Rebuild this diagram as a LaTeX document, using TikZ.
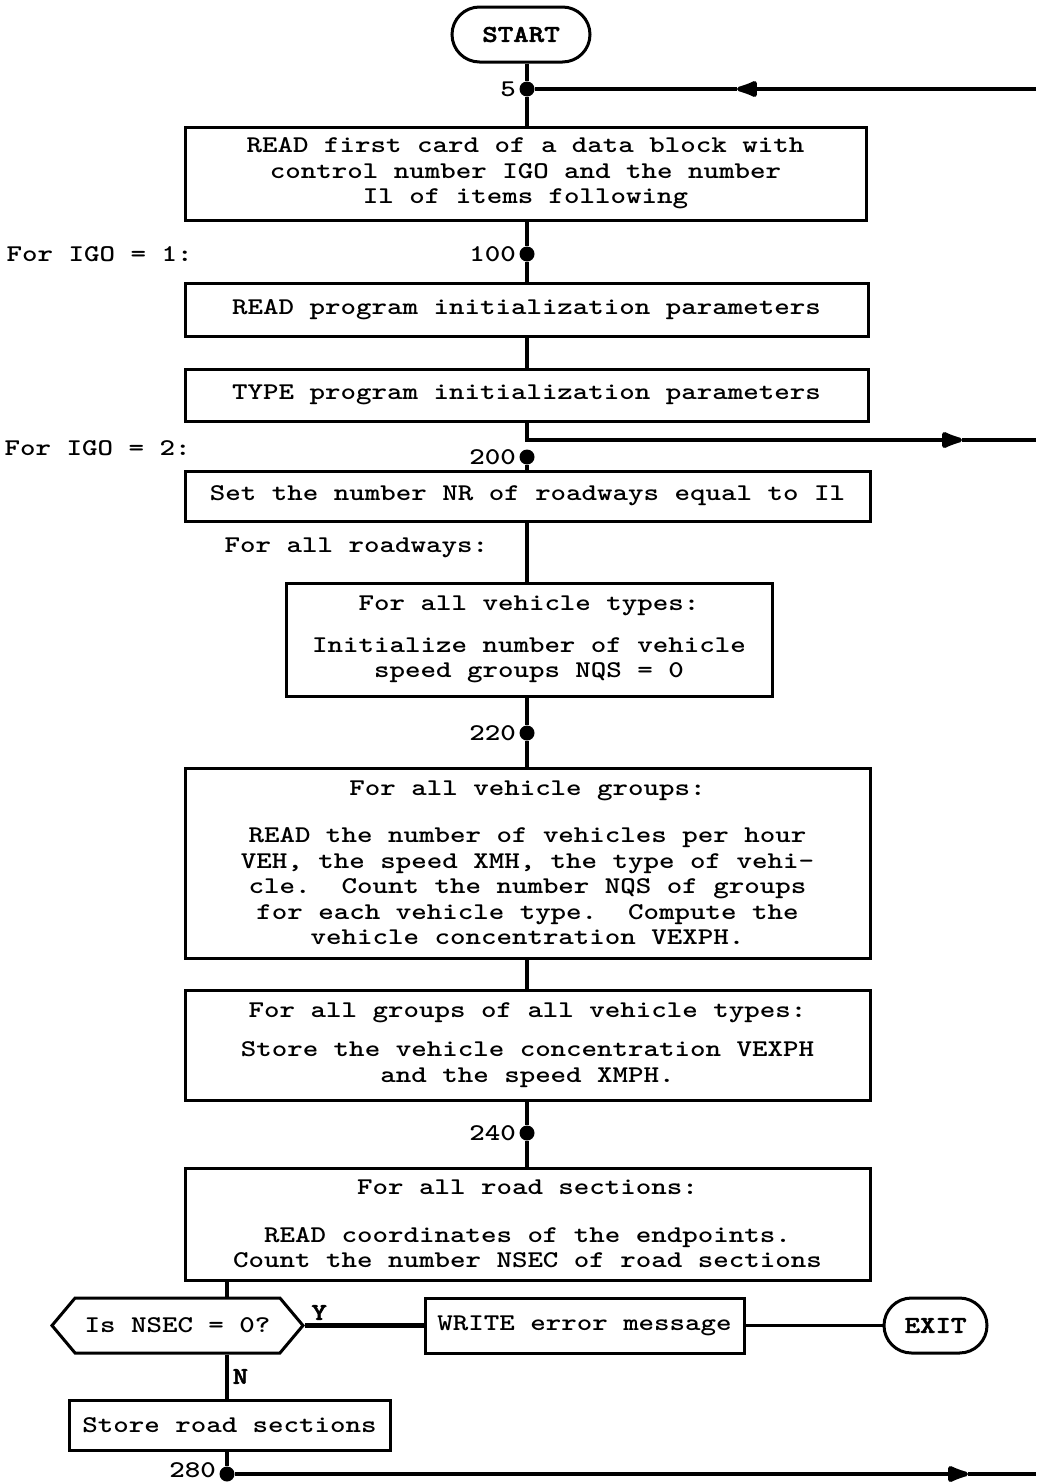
\documentclass[tikz,border=0pt]{standalone}
\usepackage{fontspec}
\setmonofont{lmmonolt10-bold.otf}[
  BoldFont=lmmonolt10-bold.otf,
  BoldFeatures={FakeBold=2},
  FakeStretch=1.23]
\usetikzlibrary{positioning,arrows.meta,shapes.misc,shapes.symbols}
\frenchspacing

\begin{document}
\begin{tikzpicture}[
  x=1pt,y=-1pt,
  >={Latex[length=28pt,width=19pt,round]},
  every node/.style={font=\ttfamily\fontsize{24}{25.5}\selectfont},
  flow/.style={line width=4.6pt},
  box/.style={draw,line width=3pt,align=center,inner sep=0pt},
  term/.style={draw,line width=3pt,rounded rectangle,inner sep=0pt,
    font=\ttfamily\bfseries\fontsize{24}{25.5}\selectfont},
  cond/.style={draw,line width=3pt,signal,signal to=west and east,
    signal pointer angle=100,inner sep=0pt},
  dot/.style={circle,fill,inner sep=0pt,minimum size=15pt},
  yn/.style={font=\ttfamily\bfseries\fontsize{24}{25.5}\selectfont}
]
\useasboundingbox (0,0) rectangle (1036,1483);

% start and reading of the data block
\node[term,minimum width=138pt,minimum height=55pt] (start) at (521,34.5) {START};
\node[dot,label={[label distance=0pt]left:5}] (j5) at (527,89) {};
\node[box,minimum width=681pt,minimum height=93pt] (read1) at (525.5,173.5)
  {READ first card of a data block with\\
   control number IGO and the number\\
   Il of items following};

% IGO = 1
\node[anchor=west] (igo1) at (3,254) {For IGO = 1:};
\node[dot,label={[label distance=0pt]left:100}] (j100) at (527,254) {};
\node[box,minimum width=683pt,minimum height=53pt] (readp) at (526.5,309.5)
  {READ program initialization parameters};
\node[box,minimum width=683pt,minimum height=52pt] (typep) at (526.5,395)
  {TYPE program initialization parameters};

% IGO = 2
\node[anchor=west] (igo2) at (1,448) {For IGO = 2:};
\node[dot,label={[label distance=0pt]left:200}] (j200) at (527,457) {};
\node[box,minimum width=685pt,minimum height=50pt] (setnr) at (527.5,496)
  {Set the number NR of roadways equal to Il};
\node[anchor=west] (allroad) at (221,548) {For all roadways:};
\node[box,minimum width=486pt,minimum height=113pt] (types) at (529,639.5)
  {For all vehicle types:\\[16pt]
   Initialize number of vehicle\\
   speed groups NQS = 0};

\node[dot,label={[label distance=0pt]left:220}] (j220) at (527,733) {};
\node[box,minimum width=685pt,minimum height=190pt] (groups1) at (527.5,863)
  {For all vehicle groups:\\[22pt]
   READ the number of vehicles per hour\\
   VEH, the speed XMH, the type of vehi-\\
   cle.\ \ Count the number NQS of groups\\
   for each vehicle type.\ \ Compute the\\
   vehicle concentration VEXPH.};
\node[box,minimum width=685pt,minimum height=110pt] (groups2) at (527.5,1045)
  {For all groups of all vehicle types:\\[14pt]
   Store the vehicle concentration VEXPH\\
   and the speed XMPH.};

\node[dot,label={[label distance=0pt]left:240}] (j240) at (527,1133) {};
\node[box,minimum width=685pt,minimum height=112pt] (road) at (527.5,1224)
  {For all road sections:\\[22pt]
   READ coordinates of the endpoints.\\
   Count the number NSEC of road sections};

% test on NSEC
\coordinate (rs) at (227,1280);
\node[cond,minimum width=251pt,minimum height=55pt] (dec) at (177.5,1325.5) {Is NSEC = 0?};
\node[box,minimum width=319pt,minimum height=55pt] (write) at (584.5,1325.5) {WRITE error message};
\node[term,minimum width=103pt,minimum height=55pt] (exit) at (935.5,1325.5) {EXIT};
\node[box,minimum width=321pt,minimum height=50pt] (store) at (229.5,1425) {Store road sections};
\node[dot,label={[label distance=0pt,yshift=4pt]left:280}] (j280) at (227,1474) {};

% free ends at the page edge
\coordinate (e5) at (1036,89);
\coordinate (a5) at (737,89);
\coordinate (e200) at (1036,440);
\coordinate (a200) at (962,440);
\coordinate (e280) at (1036,1474);
\coordinate (a280) at (968,1474);

% main column
\draw[flow] (start.south -| j5) -- (j5);
\draw[flow,->] (e5) -- (a5);
\draw[flow] (a5) -- (j5);
\draw[flow] (j5) -- (j5 |- read1.north);
\draw[flow] (j5 |- read1.south) -- (j100);
\draw[flow] (j100) -- (j100 |- readp.north);
\draw[flow] (j100 |- readp.south) -- (j100 |- typep.north);
\draw[flow,->] (j100 |- typep.south) |- (a200);
\draw[flow] (a200) -- (e200);
\draw[flow] (j200) -- (j200 |- setnr.north);
\draw[flow] (j200 |- setnr.south) -- (j200 |- types.north);
\draw[flow] (j220 |- types.south) -- (j220);
\draw[flow] (j220) -- (j220 |- groups1.north);
\draw[flow] (j220 |- groups1.south) -- (j220 |- groups2.north);
\draw[flow] (j240 |- groups2.south) -- (j240);
\draw[flow] (j240) -- (j240 |- road.north);

% branch
\draw[flow] (rs) -- (rs |- dec.north);
\draw[flow] (dec.east) -- (write.west) node[yn,pos=0.12,above] {Y};
\draw[line width=3.4pt] (write.east) -- (exit.west);
\draw[flow] (rs |- dec.south) -- (rs |- store.north) node[yn,midway,right] {N};
\draw[flow] (rs |- store.south) -- (j280);
\draw[flow,->] (j280) -- (a280);
\draw[flow] (a280) -- (e280);
\end{tikzpicture}
\end{document}
